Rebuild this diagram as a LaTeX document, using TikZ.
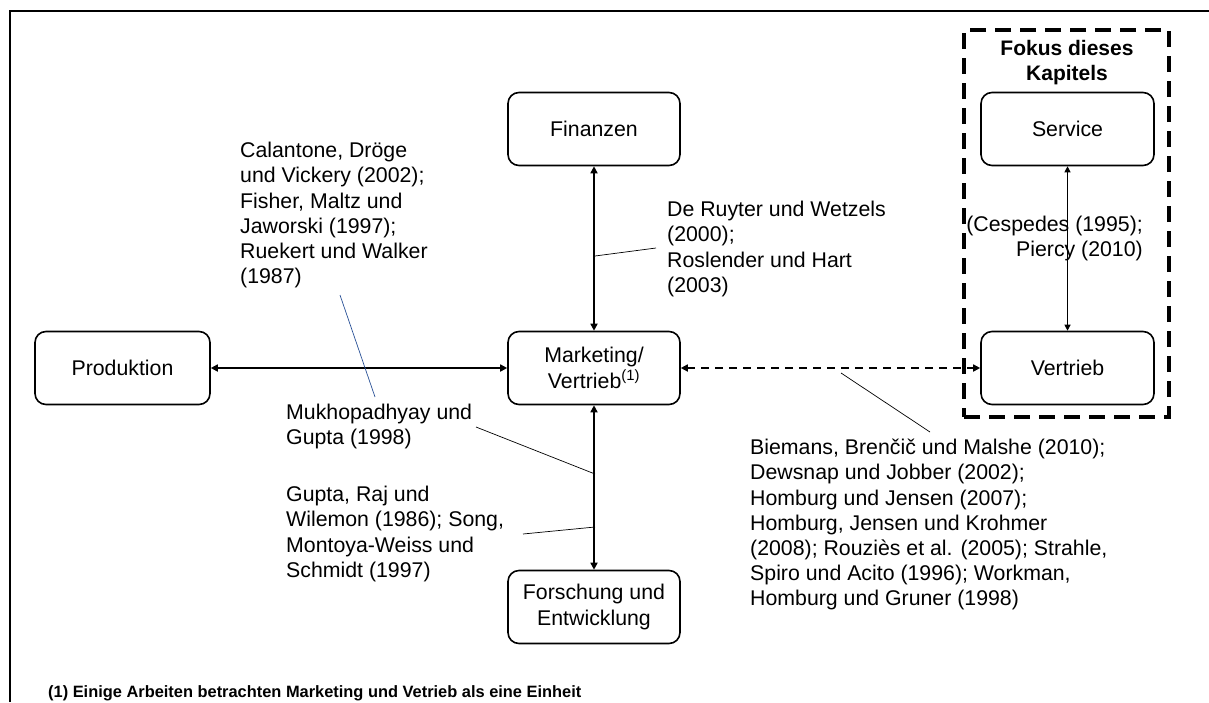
\documentclass[tikz,border=0pt]{standalone}
\usepackage{fontspec}
\setmainfont{Liberation Sans}
\usetikzlibrary{arrows.meta}
\begin{document}
\begin{tikzpicture}[x=1pt,y=-1pt,
  box/.style={draw, line width=1.6pt, rounded corners=11pt, minimum width=172pt, minimum height=73pt, align=center, font=\fontsize{21.3}{25.5}\selectfont, inner sep=0pt},
  lbl/.style={align=left, font=\fontsize{21.3}{25.2}\selectfont, inner sep=0pt, anchor=north west},
  conn/.style={line width=1.6pt, {Triangle[length=7pt,width=7pt]}-{Triangle[length=7pt,width=7pt]}},
  thinconn/.style={line width=1.1pt, {Triangle[length=6pt,width=6pt]}-{Triangle[length=6pt,width=6pt]}},
  dconn/.style={conn, dash pattern=on 8pt off 6pt},
  lead/.style={line width=0.7pt},
  bluelead/.style={line width=0.7pt, draw=leadblue},
  focusbox/.style={draw, line width=4pt, dash pattern=on 16pt off 9pt, minimum width=205pt, minimum height=387pt, inner sep=0pt}
]
\definecolor{leadblue}{RGB}{40,80,150}
\useasboundingbox (0,0) rectangle (1209,702);
\draw[line width=1.2pt] (10,702) -- (10,11) -- (1209,11);

% focus box
\node[focusbox] (focus) at (1066.5,223.5) {};
\node[anchor=north, align=center, inner sep=0pt, font=\fontsize{21}{25}\selectfont\bfseries] (ftitle) at (1067,40) {Fokus dieses\\Kapitels};

% boxes
\node[box] (fin) at (594,129) {Finanzen};
\node[box] (mkt) at (594,368) {Marketing/\\Vertrieb\textsuperscript{(1)}};
\node[box] (fe) at (594,607) {Forschung und\\Entwicklung};
\node[box, minimum width=175pt] (prod) at (122.5,368) {Produktion};
\node[box, minimum width=173pt] (srv) at (1067.5,129) {Service};
\node[box, minimum width=173pt] (vt) at (1067.5,368) {Vertrieb};

% connectors
\draw[conn] (prod) -- (mkt);
\draw[conn] (fin) -- (mkt);
\draw[conn] (mkt) -- (fe);
\draw[thinconn] (srv) -- (vt);
\draw[dconn] (mkt) -- (vt);

% labels
\node[lbl] (calantone) at (240,142) {Calantone, Dröge\\und Vickery (2002);\\Fisher, Maltz und\\Jaworski (1997);\\Ruekert und Walker\\(1987)};
\node[lbl] (ruyter) at (667,201) {De Ruyter und Wetzels\\(2000);\\Roslender und Hart\\(2003)};
\node[lbl, anchor=north east, align=right] (cesp) at (1143,216) {(Cespedes (1995);\\Piercy (2010)};
\node[lbl] (mukho) at (286,404) {Mukhopadhyay und\\Gupta (1998)};
\node[lbl] (gupta) at (286,486) {Gupta, Raj und\\Wilemon (1986); Song,\\Montoya-Weiss und\\Schmidt (1997)};
\node[lbl] (biemans) at (750,439) {Biemans, Brenčič und Malshe (2010);\\Dewsnap und Jobber (2002);\\Homburg und Jensen (2007);\\Homburg, Jensen und Krohmer\\(2008); Rouziès et al. (2005); Strahle,\\Spiro und Acito (1996); Workman,\\Homburg und Gruner (1998)};
\node[anchor=base west, inner sep=0pt, font=\fontsize{16.4}{18}\selectfont\bfseries] (foot) at (48,697) {(1) Einige Arbeiten betrachten Marketing und Vetrieb als eine Einheit};

% leader lines
\coordinate (c1) at (340,295); \coordinate (c2) at (375,397);
\draw[bluelead] (c1) -- (c2);
\coordinate (r1) at (595,256); \coordinate (r2) at (656,248);
\draw[lead] (r1) -- (r2);
\coordinate (m1) at (476,427); \coordinate (m2) at (595,474);
\draw[lead] (m1) -- (m2);
\coordinate (g1) at (523,534); \coordinate (g2) at (595,527);
\draw[lead] (g1) -- (g2);
\coordinate (b1) at (841,373); \coordinate (b2) at (930,432);
\draw[lead] (b1) -- (b2);
\end{tikzpicture}
\end{document}
